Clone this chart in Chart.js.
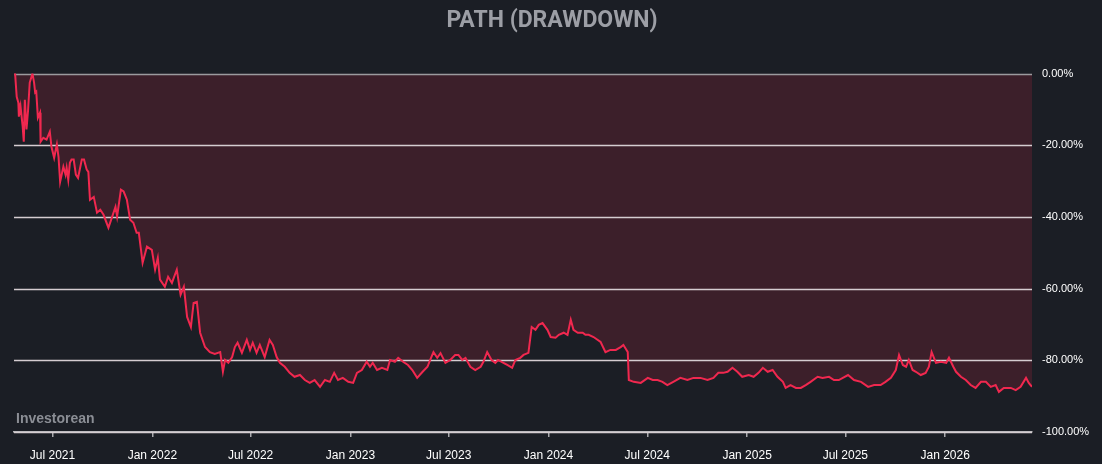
<!DOCTYPE html>
<html>
<head>
<meta charset="utf-8">
<script src="https://cdn.jsdelivr.net/npm/chart.js@4.4.1/dist/chart.umd.min.js"></script>
<style>
  html, body { margin: 0; padding: 0; background: #1b1e25; }
  #wrap { width: 1102px; height: 464px; }
</style>
</head>
<body>
<div id="wrap"><canvas id="ddChart"></canvas></div>
<script>
// drawdown readings (%), dates as MM-DD per year
const days2021 = ['04-21','04-23','04-26','04-29','04-30','05-03','05-07','05-09','05-11','05-14','05-17','05-20','05-25','05-28','05-30',
  '06-01','06-04','06-08','06-09','06-14','06-20','06-26','06-29','07-04','07-09','07-12','07-15','07-21','07-25','07-27','07-30',
  '08-02','08-05','08-09','08-13','08-17','08-24','08-28','09-02','09-05','09-08','09-15','09-21','09-27','10-03','10-12','10-19',
  '10-25','10-28','11-04','11-09','11-15','11-21','11-27','12-03','12-07','12-14','12-22','12-31']
const dd2021 = [0,0,-6.5,-8.1,-12.0,-9.2,-14.8,-19.0,-7.3,-15.6,-10.1,-2.5,0,-2.5,-5.3,
  -5.0,-12.3,-10.9,-19.0,-17.9,-18.4,-16.2,-20.4,-23.5,-19.8,-23.2,-30.2,-26.0,-28.2,-26.3,-29.6,
  -24.9,-24.0,-24.0,-28.2,-29.1,-24.0,-24.0,-26.8,-27.4,-35.2,-34.4,-38.8,-38.0,-39.4,-43.0,-39.9,
  -37.2,-39.9,-32.4,-32.9,-35.2,-40.8,-41.6,-44.4,-44.4,-52.8,-48.3,-49.2]

const days2022 = ['01-06','01-11','01-15','01-24','01-30','02-06','02-15','02-22','02-28','03-06','03-13','03-18','03-24','03-30',
  '04-08','04-17','04-26','05-06','05-11','05-15','05-21','05-28','06-02','06-07','06-15','06-24','06-30','07-05','07-12','07-18',
  '07-27','08-05','08-11','08-18','08-24','09-02','09-11','09-20','09-30','10-09','10-18','10-27','11-06','11-15','11-24',
  '12-02','12-09','12-18','12-28']
const dd2022 = [-54.7,-51.4,-57.5,-59.5,-56.7,-58.4,-54.7,-61.7,-59.5,-67.9,-70.7,-64.0,-63.7,-72.3,
  -76.3,-77.7,-78.2,-77.7,-83.2,-79.9,-80.7,-79.1,-76.3,-75.1,-77.9,-74.3,-77.1,-75.1,-77.9,-75.7,
  -79.1,-74.3,-75.7,-79.1,-80.7,-81.8,-83.5,-84.6,-84.1,-85.5,-86.3,-85.5,-87.4,-85.5,-86.0,
  -83.5,-85.5,-84.9,-86.0]

const days2023 = ['01-06','01-13','01-22','01-31','02-06','02-11','02-19','02-28','03-10','03-15','03-24','03-30','04-08','04-17',
  '04-25','05-04','05-14','05-23','05-28','06-03','06-10','06-16','06-25','07-04','07-13','07-19','07-26','08-01','08-10','08-19',
  '08-29','09-03','09-10','09-18','09-25','09-30','10-10','10-17','10-26','11-01','11-10','11-16','11-25','12-01','12-08','12-14',
  '12-21','12-30']
const dd2023 = [-86.3,-83.5,-82.7,-80.4,-81.8,-80.7,-82.7,-82.1,-82.7,-79.9,-80.4,-79.3,-80.4,-81.3,
  -82.7,-84.9,-83.2,-81.8,-79.9,-77.7,-79.3,-78.0,-80.7,-79.9,-78.5,-78.5,-79.9,-79.3,-81.8,-82.7,
  -81.8,-80.4,-77.7,-79.9,-80.7,-79.9,-80.7,-81.3,-82.1,-79.9,-79.3,-78.5,-77.9,-70.7,-71.5,-70.1,
  -69.6,-71.5]

const days2024 = ['01-05','01-14','01-20','01-29','02-05','02-11','02-16','02-24','03-04','03-09','03-15','03-24','04-06','04-15',
  '04-24','05-04','05-13','05-18','05-26','05-28','06-06','06-19','07-02','07-11','07-20','07-29','08-07','08-18','08-31',
  '09-13','09-24','10-07','10-20','10-31','11-09','11-18','11-26','12-05','12-14','12-23']
const dd2024 = [-73.5,-73.7,-72.9,-72.3,-72.9,-68.7,-71.5,-72.3,-72.3,-72.9,-72.9,-73.5,-74.9,-77.7,
  -77.1,-77.1,-76.3,-75.7,-77.7,-85.5,-86.0,-86.3,-84.9,-85.5,-85.5,-86.0,-86.9,-86.0,-84.9,
  -85.5,-84.9,-84.9,-85.5,-84.9,-83.5,-83.5,-83.2,-82.1,-83.2,-84.6]

const days2025 = ['01-04','01-13','01-22','01-30','02-08','02-17','02-26','03-08','03-13','03-22','04-01','04-10','04-19','04-28',
  '05-11','05-20','06-01','06-10','06-19','07-06','07-17','07-30','08-12','08-23','09-04','09-13','09-23','10-02','10-08',
  '10-15','10-21','10-26','11-02','11-08','11-17','11-26','12-02','12-07','12-15','12-24']
const dd2025 = [-84.1,-84.6,-83.5,-82.1,-83.2,-82.7,-84.6,-86.0,-87.7,-86.9,-87.7,-87.7,-86.9,-86.0,
  -84.6,-84.9,-84.6,-85.5,-85.5,-84.1,-85.5,-86.0,-87.4,-86.9,-86.9,-86.0,-84.9,-82.7,-78.5,
  -81.3,-81.8,-79.9,-82.7,-83.2,-84.1,-83.5,-81.8,-77.7,-80.7,-80.4]

const days2026 = ['01-03','01-08','01-16','01-21','01-30','02-08','02-17','02-26','03-08','03-17','03-26','04-04','04-10','04-19',
  '05-02','05-11','05-20','05-30','06-04','06-10']
const dd2026 = [-80.7,-79.3,-81.8,-83.2,-84.6,-85.5,-86.9,-87.7,-86.0,-86.0,-87.4,-86.9,-88.8,-87.7,
  -87.7,-88.3,-87.4,-84.9,-86.3,-87.4]

const yearDays = {2021: days2021, 2022: days2022, 2023: days2023, 2024: days2024, 2025: days2025, 2026: days2026}
const yearDD = {2021: dd2021, 2022: dd2022, 2023: dd2023, 2024: dd2024, 2025: dd2025, 2026: dd2026}
const monthNames = ['Jan','Feb','Mar','Apr','May','Jun','Jul','Aug','Sep','Oct','Nov','Dec']
const yTicks = [0, -20, -40, -60, -80, -100]

let points = []
for (let yr in yearDays) {
  let ds = yearDays[yr], vs = yearDD[yr]
  for (let i = 0; i < ds.length; i++) {
    points.push({ x: Date.parse(yr + '-' + ds[i] + 'T00:00:00Z'), y: vs[i] })
  }
}
let xMin = points[0].x
let xMax = points[points.length - 1].x

// grid lines go between the fill and the line
const gridOverFill = {
  id: 'gridOverFill',
  beforeDatasetsDraw(chart) {
    let ctx = chart.ctx
    let area = chart.chartArea
    let yScale = chart.scales.y
    ctx.save()
    ctx.lineWidth = 1.5
    yScale.ticks.forEach(t => {
      let py = Math.round(yScale.getPixelForValue(t.value)) + 0.5
      ctx.strokeStyle = t.value === 0 ? '#9b9b9e' : '#d5cdd1'
      ctx.beginPath()
      ctx.moveTo(area.left, py)
      ctx.lineTo(area.right, py)
      ctx.stroke()
    })
    ctx.restore()
  }
}

const watermark = {
  id: 'watermark',
  afterDraw(chart) {
    let ctx = chart.ctx
    ctx.save()
    ctx.font = 'bold 14px "Liberation Sans", Arial, sans-serif'
    ctx.fillStyle = '#8b8e95'
    ctx.textBaseline = 'middle'
    ctx.fillText('Investorean', chart.chartArea.left + 2, chart.chartArea.bottom - 13)
    ctx.restore()
  }
}

new Chart(document.getElementById('ddChart'), {
  type: 'line',
  data: {
    datasets: [{
      data: points,
      borderColor: '#f0284f',
      borderWidth: 2,
      pointRadius: 0,
      tension: 0,
      fill: { value: 0 },
      backgroundColor: '#3c1f2a'
    }]
  },
  options: {
    responsive: true,
    maintainAspectRatio: false,
    animation: false,
    layout: { padding: { left: 14, right: 12, top: 0, bottom: 5 } },
    plugins: {
      legend: { display: false },
      tooltip: { enabled: false },
      filler: { drawTime: 'beforeDatasetsDraw' },
      title: {
        display: true,
        text: 'PATH (DRAWDOWN)',
        color: '#9c9ea5',
        font: { family: 'Roboto, "Liberation Sans", sans-serif', size: 23, weight: 'bold' },
        padding: { top: 7, bottom: 39 }
      }
    },
    scales: {
      x: {
        type: 'linear',
        min: xMin,
        max: xMax,
        afterFit(axis) { axis.height = 27 },
        afterBuildTicks(axis) {
          let t = []
          for (let y = 2021; y <= 2026; y++) {
            for (let m of [0, 6]) {
              let v = Date.UTC(y, m, 1)
              if (v >= xMin && v <= xMax) t.push({ value: v })
            }
          }
          axis.ticks = t
        },
        ticks: {
          autoSkip: false,
          maxRotation: 0,
          color: '#ffffff',
          padding: 11,
          font: { family: '"Liberation Sans", Arial, sans-serif', size: 12 },
          callback(v) {
            let d = new Date(v)
            return monthNames[d.getUTCMonth()] + ' ' + d.getUTCFullYear()
          }
        },
        grid: { drawOnChartArea: false, drawTicks: true, tickLength: 5, color: '#a9a9ad', lineWidth: 1.5 },
        border: { display: true, color: '#b5b5b8', width: 1.5 }
      },
      y: {
        position: 'right',
        min: -100,
        max: 0,
        afterFit(axis) { axis.width = 58 },
        afterBuildTicks(axis) {
          axis.ticks = yTicks.map(v => ({ value: v }))
        },
        ticks: {
          color: '#ffffff',
          padding: 10,
          font: { family: '"Liberation Sans", Arial, sans-serif', size: 11 },
          callback: v => v.toFixed(2) + '%'
        },
        grid: { drawOnChartArea: false, drawTicks: false },
        border: { display: false }
      }
    }
  },
  plugins: [gridOverFill, watermark]
})
</script>
</body>
</html>
